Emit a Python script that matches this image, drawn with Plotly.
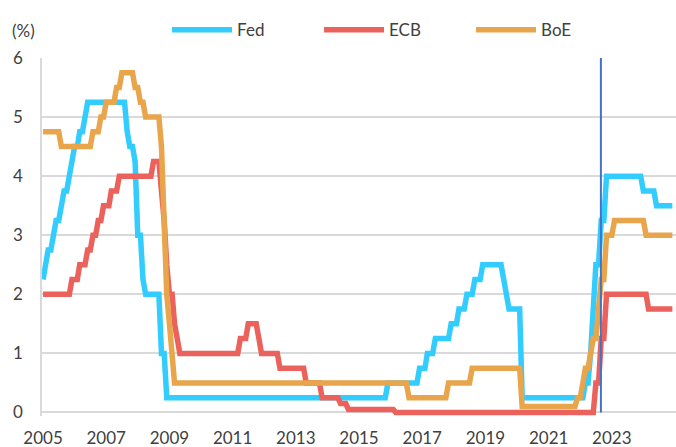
import pandas as pd
import plotly.graph_objects as go

# Monthly policy rates (%), Jan 2005 - Dec 2024
months = pd.date_range("2005-01-01", "2024-12-01", freq="MS").strftime("%Y-%m-%d").tolist()

fed = (
    [2.25, 2.5, 2.75, 2.75, 3.0, 3.25, 3.25, 3.5, 3.75, 3.75, 4.0, 4.25]  # 2005
    + [4.5, 4.5, 4.75, 4.75, 5.0, 5.25, 5.25, 5.25, 5.25, 5.25, 5.25, 5.25]  # 2006
    + [5.25, 5.25, 5.25, 5.25, 5.25, 5.25, 5.25, 5.25, 4.75, 4.5, 4.5, 4.25]  # 2007
    + [3.0, 3.0, 2.25, 2.0, 2.0, 2.0, 2.0, 2.0, 2.0, 1.0, 1.0, 0.25]  # 2008
    + [0.25] * 12  # 2009
    + [0.25] * 12  # 2010
    + [0.25] * 12  # 2011
    + [0.25] * 12  # 2012
    + [0.25] * 12  # 2013
    + [0.25] * 12  # 2014
    + [0.25, 0.25, 0.25, 0.25, 0.25, 0.25, 0.25, 0.25, 0.25, 0.25, 0.25, 0.5]  # 2015
    + [0.5, 0.5, 0.5, 0.5, 0.5, 0.5, 0.5, 0.5, 0.5, 0.5, 0.5, 0.75]  # 2016
    + [0.75, 0.75, 1.0, 1.0, 1.0, 1.25, 1.25, 1.25, 1.25, 1.25, 1.25, 1.5]  # 2017
    + [1.5, 1.5, 1.75, 1.75, 1.75, 2.0, 2.0, 2.0, 2.25, 2.25, 2.25, 2.5]  # 2018
    + [2.5, 2.5, 2.5, 2.5, 2.5, 2.5, 2.5, 2.25, 2.0, 1.75, 1.75, 1.75]  # 2019
    + [1.75, 1.75, 0.25, 0.25, 0.25, 0.25, 0.25, 0.25, 0.25, 0.25, 0.25, 0.25]  # 2020
    + [0.25] * 12  # 2021
    + [0.25, 0.25, 0.5, 0.5, 1.0, 1.75, 2.5, 2.5, 3.25, 3.25, 4.0, 4.0]  # 2022
    + [4.0] * 12  # 2023
    + [3.75, 3.75, 3.75, 3.75, 3.75, 3.5, 3.5, 3.5, 3.5, 3.5, 3.5, 3.5]  # 2024
)

ecb = (
    [2.0, 2.0, 2.0, 2.0, 2.0, 2.0, 2.0, 2.0, 2.0, 2.0, 2.0, 2.25]  # 2005
    + [2.25, 2.25, 2.5, 2.5, 2.5, 2.75, 2.75, 3.0, 3.0, 3.25, 3.25, 3.5]  # 2006
    + [3.5, 3.5, 3.75, 3.75, 3.75, 4.0, 4.0, 4.0, 4.0, 4.0, 4.0, 4.0]  # 2007
    + [4.0, 4.0, 4.0, 4.0, 4.0, 4.0, 4.25, 4.25, 4.25, 3.75, 3.25, 2.5]  # 2008
    + [2.0, 2.0, 1.5, 1.25, 1.0, 1.0, 1.0, 1.0, 1.0, 1.0, 1.0, 1.0]  # 2009
    + [1.0] * 12  # 2010
    + [1.0, 1.0, 1.0, 1.25, 1.25, 1.25, 1.5, 1.5, 1.5, 1.5, 1.25, 1.0]  # 2011
    + [1.0, 1.0, 1.0, 1.0, 1.0, 1.0, 0.75, 0.75, 0.75, 0.75, 0.75, 0.75]  # 2012
    + [0.75, 0.75, 0.75, 0.75, 0.5, 0.5, 0.5, 0.5, 0.5, 0.5, 0.25, 0.25]  # 2013
    + [0.25, 0.25, 0.25, 0.25, 0.25, 0.15, 0.15, 0.15, 0.05, 0.05, 0.05, 0.05]  # 2014
    + [0.05] * 12  # 2015
    + [0.05, 0.05, 0.0, 0.0, 0.0, 0.0, 0.0, 0.0, 0.0, 0.0, 0.0, 0.0]  # 2016
    + [0.0] * 12  # 2017
    + [0.0] * 12  # 2018
    + [0.0] * 12  # 2019
    + [0.0] * 12  # 2020
    + [0.0] * 12  # 2021
    + [0.0, 0.0, 0.0, 0.0, 0.0, 0.0, 0.5, 0.5, 1.25, 1.25, 2.0, 2.0]  # 2022
    + [2.0] * 12  # 2023
    + [2.0, 2.0, 1.75, 1.75, 1.75, 1.75, 1.75, 1.75, 1.75, 1.75, 1.75, 1.75]  # 2024
)

boe = (
    [4.75, 4.75, 4.75, 4.75, 4.75, 4.75, 4.75, 4.5, 4.5, 4.5, 4.5, 4.5]  # 2005
    + [4.5, 4.5, 4.5, 4.5, 4.5, 4.5, 4.5, 4.75, 4.75, 4.75, 5.0, 5.0]  # 2006
    + [5.25, 5.25, 5.25, 5.25, 5.5, 5.5, 5.75, 5.75, 5.75, 5.75, 5.75, 5.5]  # 2007
    + [5.5, 5.25, 5.25, 5.0, 5.0, 5.0, 5.0, 5.0, 5.0, 4.5, 3.0, 2.0]  # 2008
    + [1.5, 1.0, 0.5, 0.5, 0.5, 0.5, 0.5, 0.5, 0.5, 0.5, 0.5, 0.5]  # 2009
    + [0.5] * 12  # 2010
    + [0.5] * 12  # 2011
    + [0.5] * 12  # 2012
    + [0.5] * 12  # 2013
    + [0.5] * 12  # 2014
    + [0.5] * 12  # 2015
    + [0.5, 0.5, 0.5, 0.5, 0.5, 0.5, 0.5, 0.25, 0.25, 0.25, 0.25, 0.25]  # 2016
    + [0.25, 0.25, 0.25, 0.25, 0.25, 0.25, 0.25, 0.25, 0.25, 0.25, 0.5, 0.5]  # 2017
    + [0.5, 0.5, 0.5, 0.5, 0.5, 0.5, 0.5, 0.75, 0.75, 0.75, 0.75, 0.75]  # 2018
    + [0.75] * 12  # 2019
    + [0.75, 0.75, 0.1, 0.1, 0.1, 0.1, 0.1, 0.1, 0.1, 0.1, 0.1, 0.1]  # 2020
    + [0.1, 0.1, 0.1, 0.1, 0.1, 0.1, 0.1, 0.1, 0.1, 0.1, 0.1, 0.25]  # 2021
    + [0.25, 0.5, 0.75, 0.75, 1.0, 1.25, 1.25, 1.75, 2.25, 2.25, 3.0, 3.0]  # 2022
    + [3.0, 3.25, 3.25, 3.25, 3.25, 3.25, 3.25, 3.25, 3.25, 3.25, 3.25, 3.25]  # 2023
    + [3.25, 3.0, 3.0, 3.0, 3.0, 3.0, 3.0, 3.0, 3.0, 3.0, 3.0, 3.0]  # 2024
)

series_names = ["Fed", "ECB", "BoE"]
series_colors = ["#33CCFF", "#EA625B", "#E8A54C"]
marker_date = "2022-08-28"  # vertical reference line

FONT = "Lato"
TXT = "#404040"
GRID = "#D9D9D9"

fig = go.Figure()
for name, vals, col in zip(series_names, [fed, ecb, boe], series_colors):
    fig.add_trace(go.Scatter(
        x=months, y=vals, name=name, mode="lines",
        line=dict(color=col, width=5.5),
        hoverinfo="skip",
    ))

fig.add_shape(type="line", xref="x", yref="y", x0=marker_date, x1=marker_date,
              y0=0, y1=6, line=dict(color="#4472C4", width=2), layer="above")

fig.add_annotation(text="(%)", xref="paper", yref="paper", x=-0.029, y=1.078,
                   showarrow=False, font=dict(family=FONT, size=17, color=TXT),
                   xanchor="center", yanchor="middle")

fig.update_layout(
    width=676, height=447,
    margin=dict(l=42, r=0, t=58, b=31),
    paper_bgcolor="white", plot_bgcolor="white",
    font=dict(family=FONT, size=17, color=TXT),
    showlegend=True,
    legend=dict(orientation="h", x=0.1972, xanchor="left", y=1.078, yanchor="middle",
                itemwidth=60, entrywidth=77, entrywidthmode="pixels",
                font=dict(family=FONT, size=17, color=TXT),
                bgcolor="rgba(0,0,0,0)", itemclick=False, itemdoubleclick=False),
    xaxis=dict(type="date", range=["2004-12-20", "2025-01-12"],
               tick0="2005-01-01", dtick="M24", tickformat="%Y",
               showgrid=False, zeroline=False, showline=False,
               ticks="", ticklabelstandoff=10,
               tickfont=dict(family=FONT, size=17, color=TXT)),
    yaxis=dict(range=[-0.06, 6], tickvals=[0, 1, 2, 3, 4, 5, 6],
               showgrid=True, gridcolor=GRID, gridwidth=1.5,
               zeroline=True, zerolinecolor=GRID, zerolinewidth=1.5,
               showline=True, linecolor=GRID, linewidth=1.5,
               ticks="", ticklabelstandoff=14,
               tickfont=dict(family=FONT, size=17, color=TXT)),
)

fig.write_html("out.html", config={"displayModeBar": False},
               post_script="document.body.style.margin='0';")
